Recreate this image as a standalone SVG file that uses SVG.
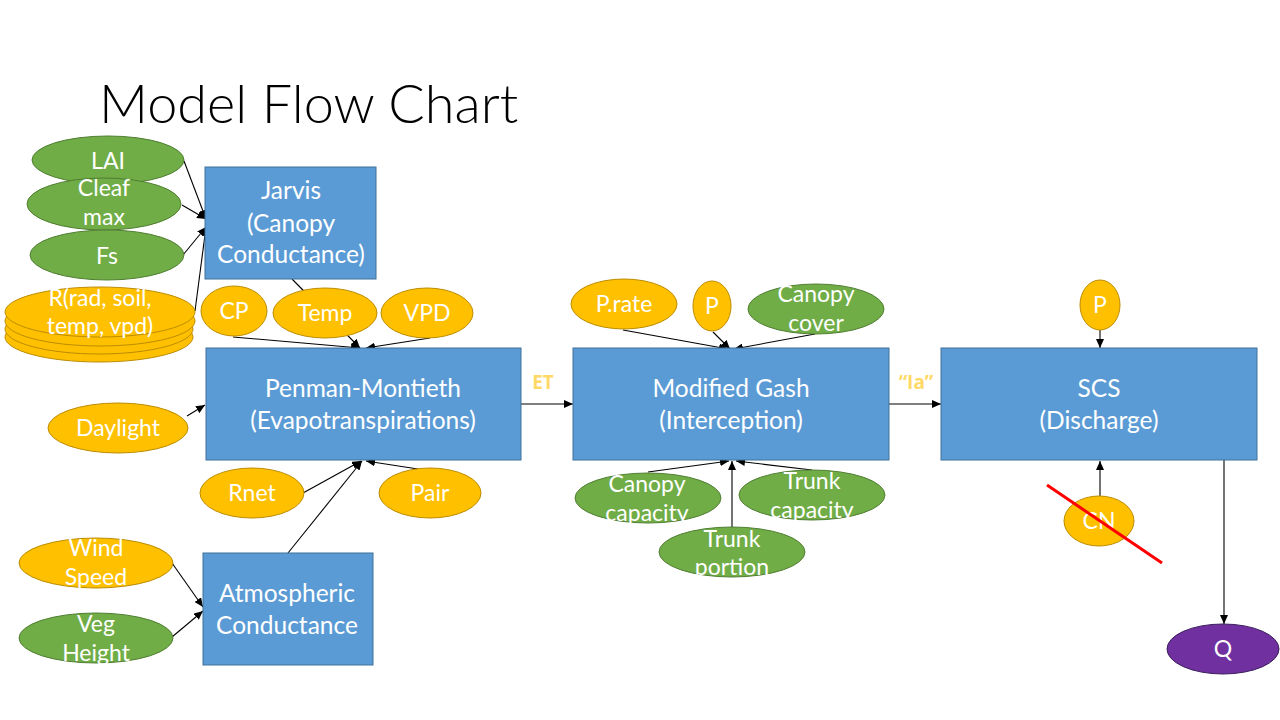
<svg xmlns="http://www.w3.org/2000/svg" width="1280" height="720" viewBox="0 0 1280 720">
  <defs>
    <marker id="arrow" markerWidth="9" markerHeight="8" refX="9" refY="4" orient="auto" markerUnits="userSpaceOnUse">
      <path d="M0,0 L9,4 L0,8 z" fill="#000"/>
    </marker>
    <style>
      text { font-family: Lato, "Open Sans", "Liberation Sans", sans-serif; text-anchor: middle; }
      .title { font-size: 54px; font-weight: 300; fill: #000; text-anchor: start; }
      .lbl { font-size: 23px; fill: #fff; }
      .box-lbl { font-size: 24.5px; fill: #fff; }
      .flow { font-family: "Open Sans", "Liberation Sans", sans-serif; font-size: 19px; font-weight: bold; fill: #FFD966; }
      .box { fill: #5B9BD5; stroke: #41719C; stroke-width: 1; }
      .orange { fill: #FFC000; stroke: #BC8C00; stroke-width: 1; }
      .green { fill: #70AD47; stroke: #507E32; stroke-width: 1; }
      .purple { fill: #7030A0; stroke: #3A1F5C; stroke-width: 1; }
      .conn line { stroke: #000; stroke-width: 1.1; marker-end: url(#arrow); }
    </style>
  </defs>

  <rect width="1280" height="720" fill="#fff"/>

  <text class="title" x="99" y="123">Model Flow Chart</text>

  <!-- connectors -->
  <g id="connectors" class="conn">
    <line x1="184" y1="161" x2="206" y2="219"/>
    <line x1="182" y1="205" x2="206" y2="219"/>
    <line x1="183" y1="255" x2="206" y2="227"/>
    <line x1="195" y1="311" x2="206" y2="227"/>
    <line x1="292" y1="279" x2="360" y2="348"/>
    <line x1="233" y1="337" x2="360" y2="348"/>
    <line x1="430" y1="338" x2="366" y2="348"/>
    <line x1="187" y1="416" x2="205" y2="405"/>
    <line x1="303" y1="493" x2="361" y2="461"/>
    <line x1="288" y1="553" x2="362" y2="461"/>
    <line x1="418" y1="469" x2="366" y2="461"/>
    <line x1="172" y1="563" x2="203" y2="607"/>
    <line x1="172" y1="637" x2="203" y2="611"/>
    <line x1="521" y1="404" x2="573" y2="404"/>
    <line x1="623" y1="330" x2="728" y2="349"/>
    <line x1="713" y1="332" x2="730" y2="349"/>
    <line x1="815" y1="334" x2="734" y2="349"/>
    <line x1="648" y1="472" x2="729" y2="461"/>
    <line x1="732" y1="528" x2="732" y2="461"/>
    <line x1="812" y1="470" x2="736" y2="461"/>
    <line x1="889" y1="404" x2="941" y2="404"/>
    <line x1="1100" y1="330" x2="1100" y2="348"/>
    <line x1="1100" y1="496" x2="1100" y2="461"/>
    <line x1="1224" y1="460" x2="1224" y2="624"/>
  </g>

  <!-- flow labels -->
  <text class="flow" x="543" y="389">ET</text>
  <text class="flow" x="916" y="389">“Ia”</text>

  <!-- process boxes -->
  <g id="jarvis">
    <rect class="box" x="205" y="167" width="171" height="112"/>
    <text class="box-lbl" x="291" y="199">Jarvis</text>
    <text class="box-lbl" x="291" y="232">(Canopy</text>
    <text class="box-lbl" x="291" y="263">Conductance)</text>
  </g>
  <g id="penman">
    <rect class="box" x="206" y="348" width="315" height="112"/>
    <text class="box-lbl" x="363" y="397">Penman-Montieth</text>
    <text class="box-lbl" x="363" y="429">(Evapotranspirations)</text>
  </g>
  <g id="atmospheric">
    <rect class="box" x="203" y="553" width="170" height="112"/>
    <text class="box-lbl" x="287" y="602">Atmospheric</text>
    <text class="box-lbl" x="287" y="634">Conductance</text>
  </g>
  <g id="gash">
    <rect class="box" x="573" y="348" width="316" height="112"/>
    <text class="box-lbl" x="731" y="397">Modified Gash</text>
    <text class="box-lbl" x="731" y="429">(Interception)</text>
  </g>
  <g id="scs">
    <rect class="box" x="941" y="348" width="316" height="112"/>
    <text class="box-lbl" x="1099" y="397">SCS</text>
    <text class="box-lbl" x="1099" y="429">(Discharge)</text>
  </g>

  <!-- inputs -->
  <g id="lai">
    <ellipse class="green" cx="108" cy="160" rx="76" ry="24"/>
    <text class="lbl" x="108" y="169">LAI</text>
  </g>
  <g id="cleaf">
    <ellipse class="green" cx="104" cy="204" rx="77" ry="26"/>
    <text class="lbl" x="104" y="196">Cleaf</text>
    <text class="lbl" x="104" y="225">max</text>
  </g>
  <g id="fs">
    <ellipse class="green" cx="107" cy="255" rx="77" ry="25"/>
    <text class="lbl" x="107" y="264">Fs</text>
  </g>
  <g id="r-stack">
    <ellipse class="orange" cx="99" cy="337" rx="94" ry="25"/>
    <ellipse class="orange" cx="99" cy="329" rx="94" ry="25"/>
    <ellipse class="orange" cx="100" cy="321" rx="95" ry="25"/>
    <ellipse class="orange" cx="100" cy="312" rx="95" ry="25"/>
    <text class="lbl" x="100" y="306">R(rad, soil,</text>
    <text class="lbl" x="100" y="334">temp, vpd)</text>
  </g>
  <g id="cp">
    <ellipse class="orange" cx="234" cy="311" rx="33" ry="25"/>
    <text class="lbl" x="234" y="319">CP</text>
  </g>
  <g id="temp">
    <ellipse class="orange" cx="325" cy="313" rx="52" ry="25"/>
    <text class="lbl" x="325" y="321">Temp</text>
  </g>
  <g id="vpd">
    <ellipse class="orange" cx="427" cy="313" rx="46" ry="25"/>
    <text class="lbl" x="427" y="321">VPD</text>
  </g>
  <g id="daylight">
    <ellipse class="orange" cx="118" cy="428" rx="70" ry="25"/>
    <text class="lbl" x="118" y="436">Daylight</text>
  </g>
  <g id="rnet">
    <ellipse class="orange" cx="252" cy="493" rx="52" ry="25"/>
    <text class="lbl" x="252" y="501">Rnet</text>
  </g>
  <g id="pair">
    <ellipse class="orange" cx="430" cy="493" rx="51" ry="25"/>
    <text class="lbl" x="430" y="501">Pair</text>
  </g>
  <g id="wind-speed">
    <ellipse class="orange" cx="96" cy="563" rx="77" ry="25"/>
    <text class="lbl" x="96" y="556">Wind</text>
    <text class="lbl" x="96" y="585">Speed</text>
  </g>
  <g id="veg-height">
    <ellipse class="green" cx="96" cy="638" rx="77" ry="25"/>
    <text class="lbl" x="96" y="632">Veg</text>
    <text class="lbl" x="96" y="661">Height</text>
  </g>
  <g id="p-rate">
    <ellipse class="orange" cx="624" cy="304" rx="53" ry="25"/>
    <text class="lbl" x="624" y="312">P.rate</text>
  </g>
  <g id="p-gash">
    <ellipse class="orange" cx="712" cy="306" rx="19" ry="25"/>
    <text class="lbl" x="712" y="314">P</text>
  </g>
  <g id="canopy-cover">
    <ellipse class="green" cx="816" cy="309" rx="68" ry="25"/>
    <text class="lbl" x="816" y="302">Canopy</text>
    <text class="lbl" x="816" y="331">cover</text>
  </g>
  <g id="canopy-capacity">
    <ellipse class="green" cx="648" cy="498" rx="73" ry="25"/>
    <text class="lbl" x="647" y="492">Canopy</text>
    <text class="lbl" x="647" y="521">capacity</text>
  </g>
  <g id="trunk-capacity">
    <ellipse class="green" cx="812" cy="495" rx="73" ry="25"/>
    <text class="lbl" x="812" y="489">Trunk</text>
    <text class="lbl" x="812" y="518">capacity</text>
  </g>
  <g id="trunk-portion">
    <ellipse class="green" cx="732" cy="552" rx="73" ry="25"/>
    <text class="lbl" x="732" y="547">Trunk</text>
    <text class="lbl" x="732" y="575">portion</text>
  </g>
  <g id="p-scs">
    <ellipse class="orange" cx="1100" cy="305" rx="20" ry="25"/>
    <text class="lbl" x="1100" y="313">P</text>
  </g>
  <g id="cn">
    <ellipse class="orange" cx="1099" cy="521" rx="35" ry="25"/>
    <text class="lbl" x="1099" y="529">CN</text>
    <line x1="1047" y1="485" x2="1162" y2="563" stroke="#FF0000" stroke-width="3"/>
  </g>
  <g id="q">
    <ellipse class="purple" cx="1223" cy="649" rx="56" ry="25"/>
    <text class="lbl" x="1223" y="657">Q</text>
  </g>
</svg>
